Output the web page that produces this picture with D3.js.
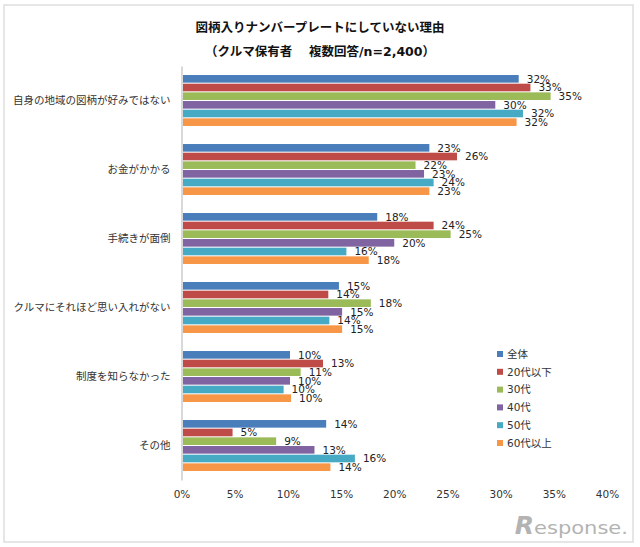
<!DOCTYPE html>
<html>
<head>
<meta charset="utf-8">
<script src="https://cdn.jsdelivr.net/npm/d3@7"></script>
<style>
  html, body { margin: 0; padding: 0; background: #fff; }
  svg { display: block; }
  text { font-family: "DejaVu Sans", "Noto Sans CJK JP", sans-serif; fill: #222; }
</style>
</head>
<body>
<div id="chart"></div>
<script>
// Chart data
const categories = ['自身の地域の図柄が好みではない', 'お金がかかる', '手続きが面倒', 'クルマにそれほど思い入れがない', '制度を知らなかった', 'その他'];
const seriesNames = ['全体', '20代以下', '30代', '40代', '50代', '60代以上'];
const seriesColors = ['#4a7ebb', '#be4b48', '#9bbb59', '#8064a2', '#46aac4', '#f79646'];
const all = [31.7, 23.3, 18.4, 14.8, 10.2, 13.6];
const under20s = [32.8, 25.9, 23.7, 13.8, 13.3, 4.8];
const thirties = [34.7, 22.0, 25.3, 17.8, 11.2, 8.9];
const forties = [29.5, 22.8, 20.0, 15.1, 10.2, 12.5];
const fifties = [32.1, 23.7, 15.5, 13.9, 9.6, 16.3];
const sixties = [31.5, 23.3, 17.6, 15.1, 10.3, 14.0];
const seriesValues = [all, under20s, thirties, forties, fifties, sixties];
const xTicks = [0, 5, 10, 15, 20, 25, 30, 35, 40];

const width = 640, height = 547;
const margin = { top: 66, right: 33, bottom: 67, left: 181.5 };

const svg = d3.select('#chart').append('svg')
  .attr('width', width)
  .attr('height', height);

// Outer frame
svg.append('rect')
  .attr('x', 4).attr('y', 5)
  .attr('width', 629).attr('height', 537)
  .attr('fill', '#fff')
  .attr('stroke', '#dedede')
  .attr('stroke-width', 1.5);

// Title
const titleLines = ['図柄入りナンバープレートにしていない理由', '（クルマ保有者　 複数回答/n=2,400）'];
svg.selectAll('.title')
  .data(titleLines)
  .enter()
  .append('text')
  .attr('class', 'title')
  .attr('x', 320)
  .attr('y', (d, i) => 27 + i * 24)
  .attr('dy', '0.36em')
  .attr('text-anchor', 'middle')
  .style('font-size', '12.5px')
  .style('font-weight', 'bold')
  .style('fill', '#111')
  .text(d => d);

// Scales
const x = d3.scaleLinear()
  .domain([0, 40])
  .range([margin.left, width - margin.right]);

const y0 = d3.scaleBand()
  .domain(categories)
  .range([margin.top, height - margin.bottom]);

const y1 = d3.scaleBand()
  .domain(seriesNames)
  .range([8.5, y0.bandwidth() - 8.5])
  .paddingInner(0.12)
  .paddingOuter(0.06);

// Bars and value labels
const format = d => Math.round(d) + '%';

seriesNames.forEach((name, s) => {
  const g = svg.append('g').attr('class', 'series');

  g.selectAll('rect')
    .data(seriesValues[s])
    .enter()
    .append('rect')
    .attr('x', x(0))
    .attr('y', (d, i) => y0(categories[i]) + y1(name))
    .attr('width', d => x(d) - x(0))
    .attr('height', y1.bandwidth())
    .attr('fill', seriesColors[s]);

  g.selectAll('text')
    .data(seriesValues[s])
    .enter()
    .append('text')
    .attr('x', d => x(d) + 8)
    .attr('y', (d, i) => y0(categories[i]) + y1(name) + y1.bandwidth() / 2)
    .attr('dy', '0.36em')
    .style('font-size', '10.5px')
    .text(format);
});

// Category axis
const yAxis = svg.append('g')
  .attr('transform', `translate(${margin.left},0)`)
  .call(d3.axisLeft(y0).tickSize(0).tickPadding(11));
yAxis.select('.domain').attr('stroke', '#d9d9d9').attr('stroke-width', 2);
yAxis.selectAll('text')
  .style('font-size', '10.5px')
  .style('font-family', '"Noto Sans CJK JP", sans-serif')
  .style('fill', '#333');

// Value axis
const xAxis = svg.append('g')
  .attr('transform', `translate(0,${height - margin.bottom})`)
  .call(d3.axisBottom(x).tickValues(xTicks).tickFormat(d => d + '%').tickSize(0).tickPadding(11));
xAxis.select('.domain').remove();
xAxis.selectAll('text').style('font-size', '10.5px').style('fill', '#333');

// Legend
const legend = svg.selectAll('.legend')
  .data(seriesNames)
  .enter()
  .append('g')
  .attr('class', 'legend')
  .attr('transform', (d, i) => `translate(497,${351 + i * 17.8})`);

legend.append('rect')
  .attr('width', 6)
  .attr('height', 6)
  .attr('fill', (d, i) => seriesColors[i]);

legend.append('text')
  .attr('x', 10)
  .attr('y', 3)
  .attr('dy', '0.36em')
  .style('font-size', '10.5px')
  .style('fill', '#333')
  .text(d => d);

// Watermark logo, big slanted R then the rest of the word
const logo = svg.append('text')
  .attr('x', 628)
  .attr('y', 534)
  .attr('text-anchor', 'end')
  .style('fill', '#b3b3b3');
logo.append('tspan')
  .style('font-size', '25px')
  .style('font-style', 'italic')
  .style('font-weight', 'bold')
  .style('fill', '#b3b3b3')
  .text('R');
logo.append('tspan')
  .attr('textLength', 94)
  .attr('lengthAdjust', 'spacingAndGlyphs')
  .style('font-size', '17px')
  .style('fill', '#b3b3b3')
  .text('esponse.');
</script>
</body>
</html>
